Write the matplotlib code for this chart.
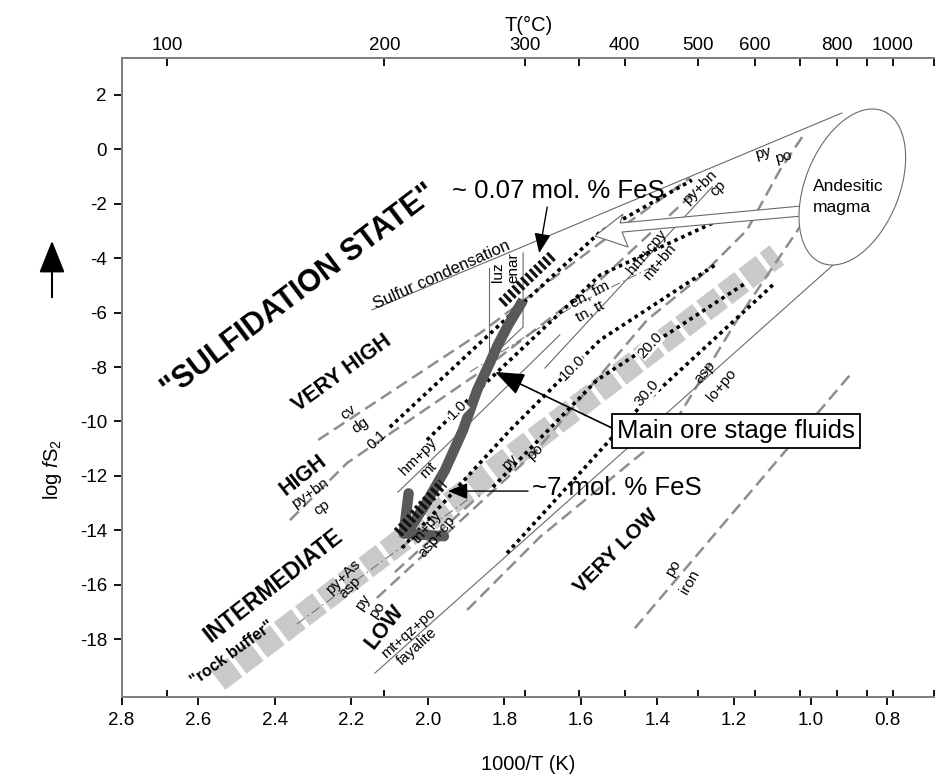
import numpy as np
import matplotlib
matplotlib.use("Agg")
import matplotlib.pyplot as plt
from matplotlib.patches import Ellipse, Polygon, FancyArrowPatch
from matplotlib.transforms import IdentityTransform

plt.rcParams['font.family'] = ['Liberation Sans', 'DejaVu Sans']
plt.rcParams['axes.unicode_minus'] = False
plt.rcParams['lines.scale_dashes'] = False
plt.rcParams['mathtext.fontset'] = 'custom'
plt.rcParams['mathtext.rm'] = 'Liberation Sans'
plt.rcParams['mathtext.it'] = 'Liberation Sans:italic'

# ---------------- data (x = 1000/T(K), y = log fS2) ----------------
X_TICKS = [2.8, 2.6, 2.4, 2.2, 2.0, 1.8, 1.6, 1.4, 1.2, 1.0, 0.8]
Y_TICKS = [-18, -16, -14, -12, -10, -8, -6, -4, -2, 0, 2]
T_TICKS_C = [100, 200, 300, 350, 400, 500, 600, 700, 800, 900, 1000, 1200]
T_LABELS = ['100', '200', '300', '', '400', '500', '600', '', '800', '', '1000', '']

SULFUR_X = [2.146, 0.918]
SULFUR_Y = [-5.90, 1.34]
FAYALITE_X = [2.138, 0.915]
FAYALITE_Y = [-19.25, -3.92]
ROCK_X = [2.548, 1.088]
ROCK_Y = [-19.51, -3.88]

# FeS isopleths (mol.% FeS in sphalerite)
ISO_01_X = [2.099, 1.864, 1.550, 1.310]
ISO_01_Y = [-10.21, -7.12, -3.04, -1.13]
ISO_1_X = [2.002, 1.882, 1.550, 1.250]
ISO_1_Y = [-10.68, -9.03, -4.62, -2.67]
ISO_10_X = [2.067, 1.785, 1.550, 1.242]
ISO_10_Y = [-14.65, -10.32, -7.01, -4.18]
ISO_20_X = [1.830, 1.558, 1.166]
ISO_20_Y = [-12.41, -8.48, -4.88]
ISO_30_X = [1.793, 1.453, 1.093]
ISO_30_Y = [-14.84, -9.58, -4.91]

# sulfidation reactions (dashed)
CVDG_X = [2.286, 1.863, 1.550, 1.315]
CVDG_Y = [-10.68, -6.75, -3.44, -1.05]
PYBN_X = [2.360, 2.211, 1.863, 1.550, 1.297]
PYBN_Y = [-13.63, -11.53, -8.18, -4.80, -1.49]
PYPO_X = [2.133, 1.720, 1.427, 1.289, 1.166, 1.080, 1.015]
PYPO_Y = [-16.49, -11.13, -6.27, -4.69, -2.96, -0.76, 0.60]
ASPLO_X = [1.897, 1.707, 1.367, 1.192, 1.028]
ASPLO_Y = [-16.93, -14.25, -10.32, -6.27, -2.85]
POIRON_X = [1.459, 0.897]
POIRON_Y = [-17.60, -8.29]
TNPY_X = [2.086, 1.864]
TNPY_Y = [-15.54, -12.71]

# thin solid reactions
HMPY_X = [2.078, 1.864, 1.655]
HMPY_Y = [-12.60, -9.69, -6.82]
HMCPY_X = [1.694, 1.257]
HMCPY_Y = [-8.04, -1.38]
LUZ_X = [1.840, 1.840]
LUZ_Y = [-4.36, -7.85]
ENAR_X = [1.751, 1.751, 1.837]
ENAR_Y = [-3.81, -6.53, -7.67]

# dash-dot reactions
ENTN_X = [1.890, 1.615, 1.419]
ENTN_Y = [-8.18, -5.72, -4.36]
PYAS_X = [2.342, 2.065, 1.890]
PYAS_Y = [-17.45, -14.58, -12.82]

# measured FeS contents (hatched bars)
FES007_X = [1.806, 1.673]
FES007_Y = [-5.65, -3.88]
FES7_X = [2.078, 1.960]
FES7_Y = [-14.10, -12.27]

# main ore stage fluid path
PATH_X = [1.751, 1.790, 1.817, 1.837, 1.871, 1.908, 1.955, 2.007, 2.046]
PATH_Y = [-5.54, -6.46, -7.19, -7.82, -8.85, -10.32, -11.79, -13.07, -13.92]
PATH_TIP = (2.078, -14.29)

# andesitic magma
MAGMA_XY = (0.891, -1.382)
MAGMA_ARROW_X = [1.0251, 1.4977, 1.4899, 1.5631, 1.4768, 1.4925, 1.0225]
MAGMA_ARROW_Y = [-2.081, -2.706, -2.375, -3.184, -3.588, -3.037, -2.449]

# ---------------- figure ----------------
fig = plt.figure(figsize=(9.35, 7.77), dpi=100)
ax = fig.add_axes([121.5 / 935, 1 - 697 / 777, 813.5 / 935, 639 / 777])
ax.set_xlim(2.8, 0.675)
ax.set_ylim(-20.13, 3.36)

SPINE = '#808080'
for s in ['left', 'bottom', 'top']:
    ax.spines[s].set_color(SPINE)
    ax.spines[s].set_linewidth(1.4)
ax.spines['right'].set_visible(False)

ax.set_xticks(X_TICKS)
ax.set_xticklabels(['%.1f' % v for v in X_TICKS])
ax.set_yticks(Y_TICKS)
ax.set_yticklabels([str(v) for v in Y_TICKS])
tpos = [1000.0 / (t + 273.15) for t in T_TICKS_C]
ax.set_xticks(tpos, minor=True)
ax.tick_params(which='major', direction='out', length=5.5, width=1.3, labelsize=13.5, pad=5)
ax.tick_params(which='minor', axis='x', direction='in', length=5, width=1.3)
ax.set_xlabel('1000/T (K)', fontsize=14.5, labelpad=19)

ax2 = ax.twiny()
ax2.set_xlim(ax.get_xlim())
ax2.set_xticks(tpos)
ax2.set_xticklabels(T_LABELS)
ax2.tick_params(direction='in', length=6, width=1.3, labelsize=13.5, pad=3)
ax2.set_xlabel('T(°C)', fontsize=14.5, labelpad=4)
for s in ['left', 'bottom', 'top']:
    ax2.spines[s].set_color(SPINE)
    ax2.spines[s].set_linewidth(1.4)
ax2.spines['right'].set_visible(False)

GRAY = '#8e8e8e'
THIN = '#6a6a6a'

# rock buffer band
ax.plot(ROCK_X, ROCK_Y, color='#c9c9c9', lw=17.5, dashes=(15.5, 3.6),
        dash_capstyle='butt', zorder=1)

def dashed(x, y):
    ax.plot(x, y, color=GRAY, lw=1.8, dashes=(9, 4.5), dash_capstyle='butt', zorder=2)

def thin(x, y):
    ax.plot(x, y, color=THIN, lw=0.8, zorder=2)

def dashdot(x, y):
    ax.plot(x, y, color=THIN, lw=0.7, dashes=(7, 2.5, 1.2, 2.5), zorder=2)

def dotted(x, y):
    ax.plot(x, y, color='black', lw=2.6, dashes=(2.6, 2.9), dash_capstyle='butt', zorder=3)

for xx, yy in [(CVDG_X, CVDG_Y), (PYBN_X, PYBN_Y), (PYPO_X, PYPO_Y),
               (ASPLO_X, ASPLO_Y), (POIRON_X, POIRON_Y), (TNPY_X, TNPY_Y)]:
    dashed(xx, yy)
for xx, yy in [(SULFUR_X, SULFUR_Y), (FAYALITE_X, FAYALITE_Y), (HMPY_X, HMPY_Y),
               (HMCPY_X, HMCPY_Y), (LUZ_X, LUZ_Y), (ENAR_X, ENAR_Y)]:
    thin(xx, yy)
for xx, yy in [(ENTN_X, ENTN_Y), (PYAS_X, PYAS_Y)]:
    dashdot(xx, yy)
for xx, yy in [(ISO_01_X, ISO_01_Y), (ISO_1_X, ISO_1_Y), (ISO_10_X, ISO_10_Y),
               (ISO_20_X, ISO_20_Y), (ISO_30_X, ISO_30_Y)]:
    dotted(xx, yy)

# hatched FeS bars
for xx, yy in [(FES007_X, FES007_Y), (FES7_X, FES7_Y)]:
    ax.plot(xx, yy, color='#111111', lw=8, dashes=(2.3, 2.0), dash_capstyle='butt', zorder=6)

# fluid path arrow
ARROWC = '#595959'
ax.plot(PATH_X, PATH_Y, color=ARROWC, lw=7.5, solid_capstyle='butt', zorder=5)
ax.annotate('', xy=PATH_TIP, xytext=(PATH_X[-1], PATH_Y[-1]),
            arrowprops=dict(arrowstyle='->,head_length=1.05,head_width=1.0', color=ARROWC,
                            lw=7.5, mutation_scale=20, shrinkA=0, shrinkB=0), zorder=5)

# magma + arrow
ax.add_patch(Polygon(np.column_stack([MAGMA_ARROW_X, MAGMA_ARROW_Y]), closed=True,
                     fc='white', ec=THIN, lw=0.8, zorder=4))
cx, cy = ax.transData.transform(MAGMA_XY)
ax.add_patch(Ellipse((cx, cy), width=164, height=94, angle=68, transform=IdentityTransform(),
                     fc='white', ec=THIN, lw=0.8, zorder=4))

def lab(x, y, s, rot=0, size=11, weight='normal', bg=False, **kw):
    kws = dict(rotation=rot, rotation_mode='anchor', ha='center', va='center',
               fontsize=size, fontweight=weight, zorder=8)
    kws.update(kw)
    if bg:
        kws['bbox'] = dict(fc='white', ec='none', pad=0.3)
    ax.text(x, y, s, **kws)

# region names
lab(2.335, -5.22, '"SULFIDATION STATE"', 37, 22, 'bold')
lab(2.224, -8.22, 'VERY HIGH', 36, 15.5, 'bold')
lab(2.3258, -11.97, 'HIGH', 38, 15.5, 'bold')
lab(2.4042, -16.02, 'INTERMEDIATE', 38, 16.5, 'bold')
lab(2.5113, -18.52, '"rock buffer"', 36, 11.5, 'bold')
lab(2.1116, -17.56, 'LOW', 52, 15.5, 'bold')
lab(1.5082, -14.77, 'VERY LOW', 45, 15, 'bold')

# reaction labels
lab(1.9627, -4.62, 'Sulfur condensation', 24, 12)
lab(1.8165, -4.51, 'luz', 90, 11)
lab(1.7773, -4.36, 'enar', 90, 11)
lab(2.2083, -9.65, 'cv', 35, 11)
lab(2.1770, -10.13, 'dg', 35, 11)
lab(2.3076, -12.63, 'py+bn', 35, 11)
lab(2.2762, -13.18, 'cp', 35, 11)
lab(2.0255, -11.31, 'hm+py', 45, 11)
lab(1.9993, -11.79, 'mt', 45, 11)
lab(2.2214, -15.72, 'py+As', 45, 11)
lab(2.2031, -16.09, 'asp', 45, 11)
lab(2.1691, -16.64, 'py', 55, 11)
lab(2.1325, -16.93, 'po', 55, 11)
lab(2.0516, -17.78, 'mt+qz+po', 42, 11)
lab(2.0281, -18.29, 'fayalite', 42, 11)
lab(1.9993, -13.88, 'tn+py', 50, 11)
lab(1.9758, -14.25, 'asp+cp', 50, 11)
lab(1.7851, -11.49, 'py', 45, 11)
lab(1.7198, -11.13, 'po', 45, 11)
lab(1.5761, -5.35, 'en, fm', 28, 11)
lab(1.5761, -5.98, 'tn, tt', 28, 11)
lab(1.4272, -3.77, 'hm+cpy', 50, 11)
lab(1.3933, -4.14, 'mt+bn', 50, 11)
lab(1.2888, -1.38, 'py+bn', 45, 11)
lab(1.2419, -1.42, 'cp', 45, 11)
lab(1.1253, -0.13, 'py', 15, 11)
lab(1.0704, -0.28, 'po', 15, 11)
lab(1.2758, -8.18, 'asp', 50, 11)
lab(1.2313, -8.66, 'lo+po', 50, 11)
lab(1.3593, -15.39, 'po', 60, 11)
lab(1.3149, -15.90, 'iron', 60, 11)

# isopleth labels
lab(2.1325, -10.68, '0.1', 45, 11)
lab(1.9235, -9.58, '1.0', 45, 11, bg=True)
lab(1.6231, -8.04, '10.0', 45, 11, bg=True)
lab(1.4194, -7.19, '20.0', 48, 11, bg=True)
lab(1.4272, -8.96, '30.0', 50, 11, bg=True)

ax.text(0.9936, -1.382, 'Andesitic', ha='left', va='center', fontsize=12.5, zorder=8)
ax.text(0.9936, -2.118, 'magma', ha='left', va='center', fontsize=12.5, zorder=8)

# callouts
ax.text(1.1947, -10.35, 'Main ore stage fluids', ha='center', va='center', fontsize=18.5,
        zorder=9, bbox=dict(fc='white', ec='black', lw=1.3, boxstyle='square,pad=0.2'))
ax.annotate('', xy=(1.824, -8.18), xytext=(1.519, -10.24),
            arrowprops=dict(arrowstyle='-|>,head_length=0.9,head_width=0.35', color='black',
                            lw=1.2, mutation_scale=20, shrinkA=0, shrinkB=0), zorder=9)
ax.text(1.7276, -12.45, '~7 mol. % FeS', ha='left', va='center', fontsize=18.5, zorder=9)
ax.annotate('', xy=(1.947, -12.56), xytext=(1.738, -12.56),
            arrowprops=dict(arrowstyle='-|>,head_length=0.6,head_width=0.25', color='black',
                            lw=1.0, mutation_scale=20, shrinkA=0, shrinkB=0), zorder=9)
ax.text(1.9366, -1.53, '~ 0.07 mol. % FeS', ha='left', va='center', fontsize=18.5, zorder=9)
ax.annotate('', xy=(1.709, -3.81), xytext=(1.688, -2.12),
            arrowprops=dict(arrowstyle='-|>,head_length=0.6,head_width=0.25', color='black',
                            lw=1.0, mutation_scale=20, shrinkA=0, shrinkB=0), zorder=9)

# y label with arrow
fig.text(52 / 935, 1 - 470 / 777, r'log $\mathit{f}\mathrm{S}_2$', rotation=90,
         ha='center', va='center', fontsize=14.5)
fig.patches.append(FancyArrowPatch(
    (52 / 935, 1 - 300 / 777), (52 / 935, 1 - 238 / 777), transform=fig.transFigure,
    arrowstyle='-|>,head_length=1.0,head_width=0.4', mutation_scale=20, color='black', lw=1.5))

fig.savefig('out.png', dpi=100)
